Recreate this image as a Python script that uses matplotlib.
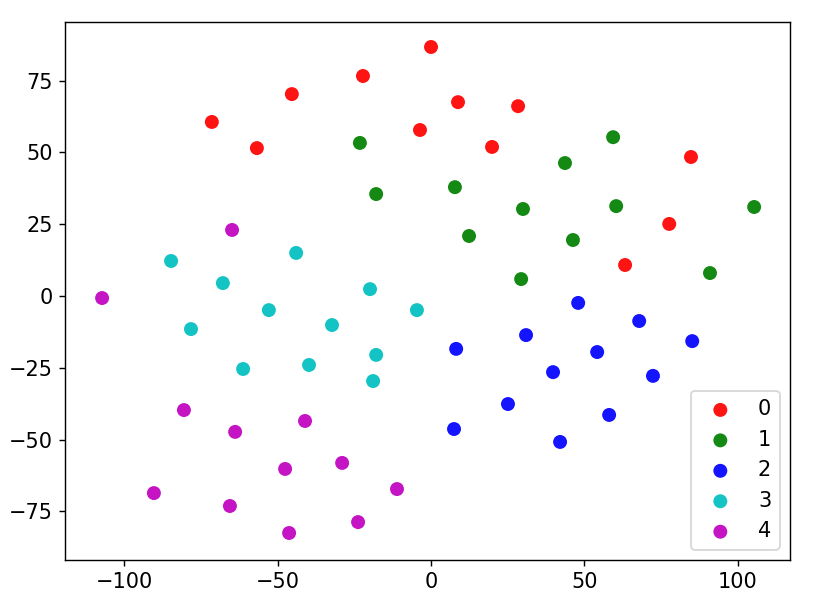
import matplotlib
matplotlib.use("Agg")
import matplotlib.pyplot as plt

plt.rcParams["font.size"] = 11.8

# t-SNE style 2D embedding, 5 classes, 12 points each
labels = ["0", "1", "2", "3", "4"]
colors = ["r", "g", "b", "c", "m"]

x0 = [0, -22.2, -45.4, -71.5, -56.8, 8.8, 28.4, -3.6, 19.9, 84.8, 77.7, 63.3]
y0 = [86.7, 76.6, 70.3, 60.6, 51.5, 67.5, 66.1, 57.8, 51.9, 48.4, 25.1, 10.8]

x1 = [-23.2, -17.9, 7.8, 30.0, 59.4, 43.7, 60.4, 12.4, 46.3, 29.4, 105.4, 91.0]
y1 = [53.3, 35.5, 37.9, 30.3, 55.3, 46.3, 31.3, 20.9, 19.5, 5.9, 31.0, 8.0]

x2 = [48.0, 67.9, 31.0, 8.2, 54.2, 85.2, 39.8, 72.4, 25.1, 58.1, 7.5, 42.1]
y2 = [-2.4, -8.7, -13.6, -18.4, -19.5, -15.7, -26.5, -27.8, -37.6, -41.4, -46.3, -50.8]

x3 = [-84.8, -44.0, -67.9, -19.9, -52.9, -4.6, -78.3, -32.3, -17.9, -61.3, -39.8, -18.9]
y3 = [12.2, 15.0, 4.5, 2.4, -4.9, -4.9, -11.5, -10.1, -20.5, -25.4, -24.0, -29.6]

x4 = [-64.9, -107.3, -80.6, -41.1, -63.9, -29.0, -47.6, -11.1, -90.4, -65.6, -23.8, -46.3]
y4 = [23.0, -0.7, -39.7, -43.5, -47.3, -58.1, -60.2, -67.2, -68.6, -73.1, -78.7, -82.5]

xs = [x0, x1, x2, x3, x4]
ys = [y0, y1, y2, y3, y4]

fig = plt.figure(figsize=(816 / 127.5, 604 / 127.5), dpi=127.5)
ax = fig.add_axes([65 / 816, 1 - 560 / 604, (790 - 65) / 816, (560 - 22) / 604])

for i in range(len(labels)):
    ax.scatter(xs[i], ys[i], c=colors[i], label=labels[i], s=62, alpha=0.92, edgecolors="none")

ax.set_xlim(-119.4, 117.1)
ax.set_ylim(-91.9, 95.4)
ax.legend(loc="lower right")

fig.savefig("out.png", dpi=127.5)
